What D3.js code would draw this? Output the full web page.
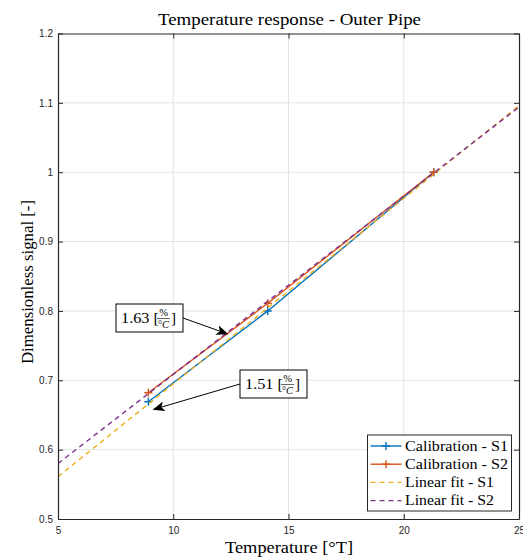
<!DOCTYPE html>
<html>
<head>
<meta charset="utf-8">
<script src="https://cdn.jsdelivr.net/npm/d3@7"></script>
<style>
  html, body { margin: 0; padding: 0; background: #ffffff; }
  svg { display: block; }
  .serif { font-family: "Liberation Serif", "DejaVu Serif", serif; fill: #000; }
  .tick text { font-family: "Liberation Sans", Arial, sans-serif; font-size: 10px; fill: #262626; }
</style>
</head>
<body>
<div id="chart"></div>
<script>
// Calibration temperatures (°C) and normalised signals for both sensors
const temperatures = [8.92, 14.1, 21.3];
const signalS1 = [0.669, 0.800, 1.000];
const signalS2 = [0.682, 0.811, 1.000];

// Linear fit end points across the visible temperature range
const fitTemps = [5, 25];
const fitS1 = [0.561, 1.096];
const fitS2 = [0.580, 1.094];

// Axis ticks
const xTicks = [5, 10, 15, 20, 25];
const yTicks = [0.5, 0.6, 0.7, 0.8, 0.9, 1.0, 1.1, 1.2];

// Sensitivity annotations
const annotations = [
  { value: "1.63", box: [116, 304], tip: [12.35, 0.767] },
  { value: "1.51", box: [240, 370], tip: [9.15, 0.658] }
];

const seriesNames = ["Calibration - S1", "Calibration - S2", "Linear fit - S1", "Linear fit - S2"];
const colors = ["#0072BD", "#D95319", "#EDB120", "#7E2F8E"];

const W = 523, H = 559;
const m = { left: 58, right: 4, top: 33.5, bottom: 40 };

const svg = d3.select("#chart").append("svg").attr("width", W).attr("height", H);

const x = d3.scaleLinear().domain([5, 25]).range([m.left, W - m.right]);
const y = d3.scaleLinear().domain([0.5, 1.2]).range([H - m.bottom, m.top]);

const fmt = d => d3.format("~g")(d);

// Stretch a serif label to the width of its TeX-set counterpart
function fitWidth(sel, width) {
  return sel.attr("textLength", width).attr("lengthAdjust", "spacingAndGlyphs");
}

// Grid
const grid = svg.append("g");
grid.selectAll(".gx").data(xTicks.slice(1, -1)).enter().append("line")
  .attr("x1", d => x(d)).attr("x2", d => x(d))
  .attr("y1", y(0.5)).attr("y2", y(1.2))
  .attr("stroke", "#e3e3e3").attr("stroke-width", 1);
grid.selectAll(".gy").data(yTicks.slice(1, -1)).enter().append("line")
  .attr("y1", d => y(d)).attr("y2", d => y(d))
  .attr("x1", x(5)).attr("x2", x(25))
  .attr("stroke", "#e3e3e3").attr("stroke-width", 1);

// Clip region for the data
svg.append("clipPath").attr("id", "plotclip").append("rect")
  .attr("x", x(5)).attr("y", y(1.2)).attr("width", x(25) - x(5)).attr("height", y(0.5) - y(1.2));

const plot = svg.append("g").attr("clip-path", "url(#plotclip)");
const line = d3.line().x(d => x(d[0])).y(d => y(d[1]));

// Calibration curves
[signalS1, signalS2].forEach((vals, i) => {
  const pts = temperatures.map((t, k) => [t, vals[k]]);
  plot.append("path").datum(pts).attr("d", line)
    .attr("fill", "none").attr("stroke", colors[i]).attr("stroke-width", 1.4);
  plot.selectAll(null).data(pts).enter().append("path")
    .attr("d", d => `M${x(d[0]) - 4},${y(d[1])}h8M${x(d[0])},${y(d[1]) - 4}v8`)
    .attr("stroke", colors[i]).attr("stroke-width", 1.4);
});

// Linear fits
[fitS1, fitS2].forEach((vals, i) => {
  const pts = fitTemps.map((t, k) => [t, vals[k]]);
  plot.append("path").datum(pts).attr("d", line)
    .attr("fill", "none").attr("stroke", colors[i + 2]).attr("stroke-width", 1.4)
    .attr("stroke-dasharray", "5,4");
});

// Axes with inward ticks on all four sides
const tickLen = 5;
const xAxisB = svg.append("g").attr("transform", `translate(0,${y(0.5)})`)
  .call(d3.axisBottom(x).tickValues(xTicks).tickFormat(fmt).tickSizeInner(-tickLen).tickSizeOuter(0).tickPadding(8));
const xAxisT = svg.append("g").attr("transform", `translate(0,${y(1.2)})`)
  .call(d3.axisTop(x).tickValues(xTicks).tickFormat("").tickSizeInner(-tickLen).tickSizeOuter(0));
const yAxisL = svg.append("g").attr("transform", `translate(${x(5)},0)`)
  .call(d3.axisLeft(y).tickValues(yTicks).tickFormat(fmt).tickSizeInner(-tickLen).tickSizeOuter(0).tickPadding(5));
const yAxisR = svg.append("g").attr("transform", `translate(${x(25)},0)`)
  .call(d3.axisRight(y).tickValues(yTicks).tickFormat("").tickSizeInner(-tickLen).tickSizeOuter(0));
[xAxisB, xAxisT, yAxisL, yAxisR].forEach(a => {
  a.select(".domain").attr("stroke", "#262626").attr("stroke-width", 1.2);
  a.selectAll(".tick line").attr("stroke", "#262626").attr("stroke-width", 1);
});

// Title and axis labels
fitWidth(svg.append("text").attr("class", "serif").attr("x", 289.5).attr("y", 25)
  .attr("text-anchor", "middle").attr("font-size", 16.5).text("Temperature response - Outer Pipe"), 263);
fitWidth(svg.append("text").attr("class", "serif").attr("x", 289).attr("y", 553)
  .attr("text-anchor", "middle").attr("font-size", 16.5).text("Temperature [°T]"), 128);
fitWidth(svg.append("text").attr("class", "serif")
  .attr("transform", `translate(33,${282}) rotate(-90)`)
  .attr("text-anchor", "middle").attr("font-size", 16.5).text("Dimensionless signal [-]"), 164);

// Annotations: boxed label with an arrow to the curve
const defs = svg.append("defs");
defs.append("marker").attr("id", "arrowhead").attr("viewBox", "0 0 12 10")
  .attr("refX", 11).attr("refY", 5).attr("markerWidth", 12).attr("markerHeight", 10)
  .attr("markerUnits", "userSpaceOnUse").attr("orient", "auto")
  .append("path").attr("d", "M0,0 L12,5 L0,10 L3,5 Z").attr("fill", "#000");

annotations.forEach(a => {
  const bw = 67, bh = 28;
  const [bx, by] = a.box;
  const tipX = x(a.tip[0]), tipY = y(a.tip[1]);
  const fromX = tipX > bx ? bx + bw : bx;
  const fromY = by + 14;
  svg.append("line").attr("x1", fromX).attr("y1", fromY).attr("x2", tipX).attr("y2", tipY)
    .attr("stroke", "#000").attr("stroke-width", 1).attr("marker-end", "url(#arrowhead)");
  svg.append("rect").attr("x", bx).attr("y", by).attr("width", bw).attr("height", bh)
    .attr("fill", "#fff").attr("stroke", "#000").attr("stroke-width", 1);
  const g = svg.append("g").attr("class", "serif");
  fitWidth(g.append("text").attr("x", bx + 5).attr("y", by + 19).attr("font-size", 15)
    .text(a.value + " ["), 38);
  const fx = bx + 47.5;
  g.append("text").attr("x", fx).attr("y", by + 11.5).attr("font-size", 10.5).attr("text-anchor", "middle").text("%");
  g.append("line").attr("x1", fx - 6.5).attr("x2", fx + 6.5).attr("y1", by + 14.5).attr("y2", by + 14.5)
    .attr("stroke", "#000").attr("stroke-width", 0.6);
  g.append("text").attr("x", fx).attr("y", by + 23.5).attr("font-size", 10.5).attr("text-anchor", "middle")
    .html('°<tspan font-style="italic">C</tspan>');
  g.append("text").attr("x", bx + 55).attr("y", by + 19).attr("font-size", 15).text("]");
});

// Legend
const legendWidths = [103, 103, 89, 89];
const lg = svg.append("g").attr("transform", "translate(367.5,435)");
lg.append("rect").attr("width", 144).attr("height", 76)
  .attr("fill", "#fff").attr("stroke", "#262626").attr("stroke-width", 1);
seriesNames.forEach((name, i) => {
  const yy = 11 + i * 18.2;
  lg.append("line").attr("x1", 3).attr("x2", 34).attr("y1", yy).attr("y2", yy)
    .attr("stroke", colors[i]).attr("stroke-width", 1.4)
    .attr("stroke-dasharray", i >= 2 ? "5,4" : null);
  if (i < 2) {
    lg.append("path").attr("d", `M14.5,${yy}h8M18.5,${yy - 4}v8`)
      .attr("stroke", colors[i]).attr("stroke-width", 1.4);
  }
  fitWidth(lg.append("text").attr("class", "serif").attr("x", 37.5).attr("y", yy + 4.5)
    .attr("font-size", 14.5).text(name), legendWidths[i]);
});
</script>
</body>
</html>
